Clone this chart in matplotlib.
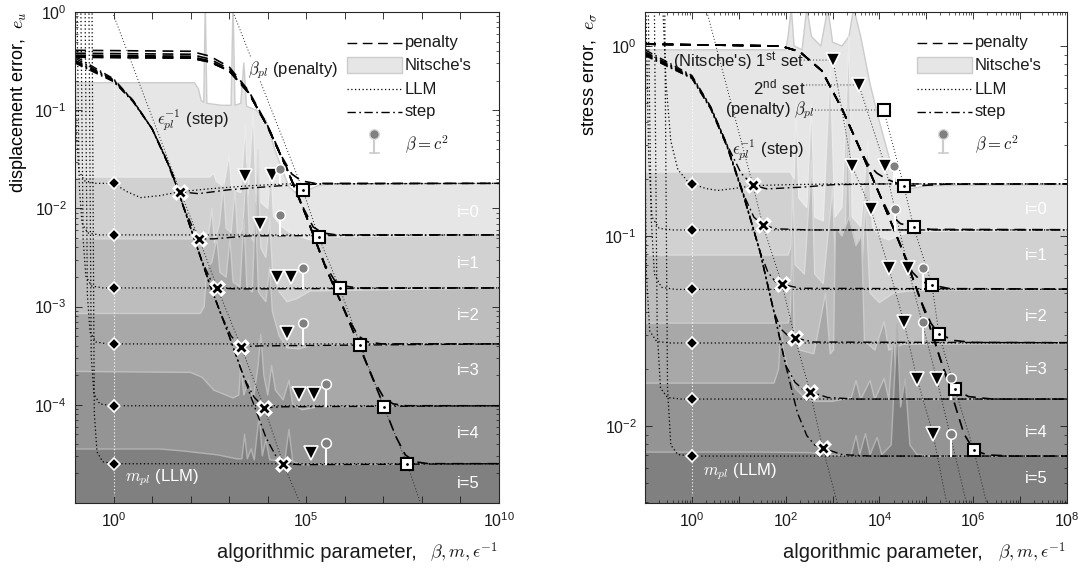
import numpy as np
import matplotlib.pyplot as plt
from matplotlib.ticker import LogLocator, NullLocator
from matplotlib.patches import Rectangle

plt.rcParams['font.family'] = ['Liberation Sans', 'DejaVu Sans']
plt.rcParams['mathtext.fontset'] = 'cm'

# all curve data below are (log10 parameter, log10 error) pairs
fill_gray = [0.90, 0.82, 0.74, 0.66, 0.58, 0.50]
edge_gray = [0.80, 0.92, 0.86, 0.80, 0.75, 0.70]

# ---------------- displacement panel ----------------
u_levels = [-1.745, -2.27, -2.81, -3.38, -4.01, -4.60]

u_nitsche = [
    [(-1, -0.72), (2.1, -0.72), (2.2, -0.78), (2.27, -0.90), (2.34, -0.92), (2.38, 0.1), (2.42, -0.93),
     (2.8, -0.95), (3.05, -0.95), (3.1, 0.1), (3.15, -0.95), (3.3, -0.93), (3.38, -0.52), (3.45, -0.96),
     (3.7, -1.0), (3.95, -1.1), (4.2, -1.42), (4.4, -1.63), (4.55, -1.78), (4.75, -1.85), (5.0, -1.82),
     (5.3, -1.77), (5.6, -1.75), (10, -1.745)],
    [(-1, -1.68), (2.5, -1.68), (2.6, -1.64), (2.66, -1.72), (2.85, -1.78), (3.0, -1.45), (3.06, -1.80),
     (3.3, -1.84), (3.42, -1.15), (3.49, -1.86), (3.62, -1.0), (3.7, -1.86), (3.85, -1.95), (4.0, -2.0),
     (4.08, -1.55), (4.15, -2.08), (4.35, -2.18), (4.55, -2.24), (4.8, -2.28), (5.1, -2.32), (5.4, -2.29),
     (10, -2.27)],
    [(-1, -2.31), (2.3, -2.31), (2.45, -2.30), (2.55, -2.0), (2.62, -2.35), (2.75, -2.15), (2.85, -1.75),
     (2.92, -2.2), (3.05, -2.25), (3.15, -1.8), (3.22, -2.3), (3.35, -2.2), (3.45, -1.55), (3.52, -2.25),
     (3.65, -2.35), (3.75, -1.4), (3.82, -2.4), (3.95, -2.5), (4.05, -2.1), (4.12, -2.6), (4.3, -2.85),
     (4.5, -2.95), (4.75, -2.92), (5.1, -2.84), (10, -2.81)],
    [(-1, -3.07), (2.25, -3.07), (2.35, -3.0), (2.42, -2.6), (2.55, -2.55), (2.68, -2.3), (2.76, -2.65),
     (2.92, -2.7), (3.02, -2.3), (3.1, -2.75), (3.28, -2.8), (3.38, -2.1), (3.46, -2.8), (3.6, -2.85),
     (3.68, -1.95), (3.76, -2.85), (3.95, -2.95), (4.05, -2.6), (4.12, -3.05), (4.3, -3.3), (4.5, -3.42),
     (4.8, -3.43), (5.2, -3.39), (10, -3.38)],
    [(-1, -3.66), (2.0, -3.67), (2.3, -3.72), (2.6, -3.85), (3.1, -3.93), (3.25, -3.9), (3.3, -3.58),
     (3.38, -3.9), (3.5, -3.75), (3.62, -3.95), (3.75, -3.6), (3.82, -3.28), (3.9, -3.7), (4.0, -3.9),
     (4.1, -3.6), (4.2, -3.85), (4.4, -3.95), (4.55, -3.75), (4.65, -4.0), (4.9, -4.05), (5.3, -4.02),
     (10, -4.01)],
    [(-1, -4.45), (1.2, -4.45), (1.8, -4.47), (2.7, -4.51), (3.2, -4.55), (3.33, -4.55), (3.4, -4.3),
     (3.47, -4.55), (3.57, -4.45), (3.65, -4.56), (3.78, -4.1), (3.86, -4.52), (3.95, -4.35), (4.05, -4.56),
     (4.3, -4.57), (4.45, -4.55), (4.55, -4.25), (4.65, -4.58), (4.9, -4.61), (10, -4.60)],
]

u_penalty = [
    [(-1, -0.39), (2.0, -0.40), (2.5, -0.45), (3.0, -0.56), (3.5, -0.80), (4.0, -1.16), (4.375, -1.48),
     (4.625, -1.65), (4.875, -1.72), (5.225, -1.745), (10, -1.745)],
    [(-1, -0.42), (2.0, -0.43), (2.5, -0.48), (3.0, -0.58), (3.5, -0.81), (4.0, -1.17), (4.5, -1.60),
     (4.93, -2.00), (5.18, -2.19), (5.43, -2.25), (5.78, -2.27), (10, -2.27)],
    [(-1, -0.44), (2.0, -0.45), (2.5, -0.50), (3.0, -0.60), (3.5, -0.82), (4.0, -1.17), (4.5, -1.60),
     (5.0, -2.08), (5.48, -2.57), (5.73, -2.73), (5.98, -2.79), (6.33, -2.81), (10, -2.81)],
    [(-1, -0.45), (2.0, -0.46), (2.5, -0.50), (3.0, -0.60), (3.5, -0.82), (4.0, -1.17), (4.5, -1.60),
     (5.0, -2.08), (5.5, -2.60), (6.1, -3.13), (6.35, -3.30), (6.6, -3.36), (6.95, -3.38), (10, -3.38)],
    [(-1, -0.46), (2.0, -0.47), (2.5, -0.51), (3.0, -0.60), (3.5, -0.82), (4.0, -1.17), (4.5, -1.60),
     (5.0, -2.08), (5.5, -2.60), (6.0, -3.05), (6.75, -3.75), (7.0, -3.92), (7.25, -3.99), (7.6, -4.01),
     (10, -4.01)],
    [(-1, -0.46), (2.0, -0.47), (2.5, -0.51), (3.0, -0.60), (3.5, -0.82), (4.0, -1.17), (4.5, -1.60),
     (5.0, -2.08), (5.5, -2.60), (6.0, -3.05), (6.5, -3.52), (7.0, -4.0), (7.32, -4.32), (7.57, -4.51),
     (7.82, -4.58), (8.17, -4.60), (10, -4.60)],
]

u_step = [
    [(-1, -0.45), (0, -0.68), (0.5, -0.90), (1.0, -1.19), (1.33, -1.46), (1.55, -1.70), (1.73, -1.83),
     (2.2, -1.85), (3.0, -1.81), (4.3, -1.77), (5.5, -1.75), (10, -1.745)],
    [(-1, -0.47), (0, -0.69), (0.5, -0.90), (1.0, -1.19), (1.5, -1.62), (1.81, -1.98), (2.06, -2.20),
     (2.22, -2.31), (2.6, -2.31), (3.5, -2.28), (10, -2.27)],
    [(-1, -0.49), (0, -0.69), (0.5, -0.90), (1.0, -1.19), (1.5, -1.62), (2.0, -2.20), (2.28, -2.52),
     (2.53, -2.74), (2.69, -2.81), (3.2, -2.82), (10, -2.81)],
    [(-1, -0.50), (0, -0.70), (0.5, -0.90), (1.0, -1.19), (1.5, -1.62), (2.0, -2.20), (2.5, -2.78),
     (2.8, -3.09), (3.05, -3.30), (3.31, -3.41), (3.8, -3.40), (10, -3.38)],
    [(-1, -0.51), (0, -0.70), (0.5, -0.91), (1.0, -1.19), (1.5, -1.62), (2.0, -2.20), (2.5, -2.78),
     (3.0, -3.30), (3.39, -3.73), (3.64, -3.92), (3.91, -4.03), (4.4, -4.02), (10, -4.01)],
    [(-1, -0.52), (0, -0.71), (0.5, -0.91), (1.0, -1.19), (1.5, -1.62), (2.0, -2.20), (2.5, -2.78),
     (3.0, -3.30), (3.5, -3.85), (3.96, -4.34), (4.21, -4.52), (4.40, -4.60), (4.9, -4.61), (10, -4.60)],
]

u_llm = [
    [(-1.03, 0.1), (-0.97, -1.2), (-0.9, -1.62), (-0.75, -1.72), (-0.45, -1.745), (0.0, -1.745),
     (0.35, -1.83), (0.7, -1.89), (1.2, -1.87), (1.73, -1.83), (2.5, -1.80), (3.5, -1.77), (4.5, -1.75),
     (10, -1.745)],
    [(-0.95, 0.1), (-0.89, -1.77), (-0.82, -2.15), (-0.67, -2.25), (-0.37, -2.27), (10, -2.27)],
    [(-0.85, 0.1), (-0.79, -2.31), (-0.72, -2.69), (-0.57, -2.79), (-0.27, -2.81), (10, -2.81)],
    [(-0.74, 0.1), (-0.68, -2.88), (-0.61, -3.26), (-0.46, -3.36), (-0.16, -3.38), (10, -3.38)],
    [(-0.64, 0.1), (-0.58, -3.5), (-0.51, -3.89), (-0.36, -3.99), (-0.06, -4.01), (10, -4.01)],
    [(-0.56, 0.1), (-0.50, -4.09), (-0.43, -4.48), (-0.28, -4.58), (0.02, -4.60), (10, -4.60)],
]

u_cross = [(1.73, -1.83), (2.22, -2.31), (2.69, -2.81), (3.31, -3.41), (3.91, -4.03), (4.40, -4.60)]
u_square = [(4.91, -1.81), (5.32, -2.29), (5.865, -2.81), (6.40, -3.39), (7.01, -4.02), (7.62, -4.605)]
u_tri1 = [(3.42, -1.67), (3.81, -2.16), (4.24, -2.70), (4.50, -3.27), (4.80, -3.89), (5.12, -4.49)]
u_tri2 = [(4.11, -1.66), (4.61, -2.70), (5.21, -3.89)]
u_lolli = [(4.31, -1.595), (4.31, -2.064), (4.91, -2.605), (4.91, -3.17), (5.51, -3.79), (5.51, -4.385)]
u_cross_ends = [(-0.03, 0.0), (4.95, -5.1)]
u_square_ends = [(3.1, 0.0), (8.05, -5.1)]

# ---------------- stress panel ----------------
s_levels = [-0.725, -0.968, -1.281, -1.563, -1.858, -2.158]

s_nitsche = [
    [(-1, -0.02), (2.0, -0.02), (2.05, 0.05), (2.12, 0.2), (2.18, 0.0), (2.35, -0.02), (2.45, 0.2),
     (2.55, 0.05), (2.75, 0.0), (2.9, 0.2), (3.0, 0.02), (3.2, 0.0), (3.35, 0.05), (3.45, 0.2), (3.6, 0.05),
     (3.8, -0.2), (4.0, -0.4), (4.2, -0.58), (4.35, -0.72), (4.5, -0.76), (4.7, -0.75), (5.0, -0.735),
     (10, -0.725)],
    [(-1, -0.663), (2.1, -0.663), (2.18, -0.70), (2.22, -0.3), (2.28, -0.8), (2.45, -0.85), (2.55, -0.3),
     (2.62, -0.9), (2.8, -0.92), (2.95, -0.1), (3.05, -0.9), (3.2, -0.85), (3.35, 0.05), (3.42, -0.9),
     (3.6, -0.95), (3.75, -0.5), (3.85, -0.95), (4.0, -1.0), (4.2, -1.02), (4.5, -0.99), (4.8, -0.975),
     (10, -0.968)],
    [(-1, -1.10), (2.05, -1.10), (2.12, -1.05), (2.15, -0.7), (2.2, -1.15), (2.4, -1.2), (2.55, -0.6),
     (2.62, -1.2), (2.8, -1.25), (3.0, -0.75), (3.08, -1.25), (3.25, -1.3), (3.32, -0.3), (3.4, -1.3),
     (3.6, -1.3), (3.7, -0.8), (3.8, -1.3), (4.0, -1.35), (4.3, -1.3), (4.6, -1.29), (5.0, -1.284),
     (10, -1.281)],
    [(-1, -1.458), (2.05, -1.458), (2.1, -1.40), (2.14, -1.0), (2.18, -1.5), (2.3, -1.6), (2.6, -1.62),
     (2.85, -1.3), (2.95, -1.62), (3.02, -1.6), (3.06, -0.95), (3.2, -1.0), (3.35, -0.9), (3.5, -1.05),
     (3.62, -1.0), (3.68, -1.55), (3.9, -1.6), (4.1, -1.45), (4.2, -1.6), (4.5, -1.57), (10, -1.563)],
    [(-1, -1.774), (1.75, -1.774), (1.85, -1.70), (1.9, -1.46), (1.95, -1.6), (2.05, -1.7), (2.2, -1.8),
     (2.4, -1.85), (2.6, -1.87), (3.0, -1.87), (3.4, -1.85), (3.5, -1.76), (3.6, -1.86), (3.8, -1.76),
     (3.9, -1.86), (4.1, -1.75), (4.2, -1.86), (4.3, -1.5), (4.38, -1.86), (4.6, -1.86), (10, -1.858)],
    [(-1, -2.137), (1.5, -2.137), (2.5, -2.14), (3.2, -2.155), (3.4, -2.15), (3.5, -2.05), (3.58, -2.15),
     (3.7, -2.04), (3.8, -2.15), (3.95, -2.06), (4.05, -2.15), (4.25, -2.1), (4.38, -1.46), (4.45, -1.9),
     (4.55, -1.75), (4.65, -2.1), (4.8, -2.15), (5.1, -2.16), (10, -2.158)],
]

s_penalty = [
    [(-1, 0.01), (1.9, 0.0), (2.3, -0.03), (2.77, -0.13), (3.2, -0.33), (3.6, -0.55), (3.75, -0.62),
     (3.95, -0.67), (4.15, -0.70), (4.35, -0.72), (4.52, -0.735), (4.85, -0.735), (5.4, -0.727), (10, -0.725)],
    [(-1, 0.01), (1.9, 0.0), (2.3, -0.03), (2.77, -0.13), (3.2, -0.33), (3.6, -0.55), (4.0, -0.78),
     (4.2, -0.88), (4.45, -0.935), (4.73, -0.953), (5.1, -0.965), (10, -0.968)],
    [(-1, 0.01), (1.9, 0.0), (2.3, -0.03), (2.77, -0.13), (3.2, -0.33), (3.6, -0.55), (4.0, -0.78),
     (4.5, -1.08), (4.7, -1.19), (4.9, -1.24), (5.12, -1.258), (5.5, -1.277), (10, -1.281)],
    [(-1, 0.01), (1.9, 0.0), (2.3, -0.03), (2.77, -0.13), (3.2, -0.33), (3.6, -0.55), (4.0, -0.78),
     (4.5, -1.08), (4.9, -1.35), (5.1, -1.46), (5.27, -1.516), (5.6, -1.55), (6.0, -1.56), (10, -1.563)],
    [(-1, 0.01), (1.9, 0.0), (2.3, -0.03), (2.77, -0.13), (3.2, -0.33), (3.6, -0.55), (4.0, -0.78),
     (4.5, -1.08), (5.0, -1.42), (5.3, -1.65), (5.45, -1.75), (5.61, -1.805), (5.9, -1.845), (6.4, -1.858),
     (10, -1.858)],
    [(-1, 0.01), (1.9, 0.0), (2.3, -0.03), (2.77, -0.13), (3.2, -0.33), (3.6, -0.55), (4.0, -0.78),
     (4.5, -1.08), (5.0, -1.42), (5.5, -1.80), (5.8, -2.04), (6.01, -2.126), (6.3, -2.152), (6.8, -2.158),
     (10, -2.158)],
]

s_step = [
    [(-1, -0.02), (0, -0.155), (0.4, -0.32), (0.75, -0.52), (1.05, -0.67), (1.30, -0.732), (1.6, -0.752),
     (2.4, -0.742), (3.0, -0.73), (4.0, -0.726), (10, -0.725)],
    [(-1, -0.03), (0, -0.16), (0.4, -0.32), (0.75, -0.52), (1.1, -0.78), (1.32, -0.90), (1.51, -0.942),
     (1.8, -0.962), (2.5, -0.968), (10, -0.968)],
    [(-1, -0.035), (0, -0.165), (0.4, -0.325), (0.75, -0.525), (1.1, -0.78), (1.45, -1.08), (1.62, -1.19),
     (1.78, -1.24), (1.92, -1.253), (2.3, -1.275), (10, -1.281)],
    [(-1, -0.04), (0, -0.165), (0.4, -0.325), (0.75, -0.525), (1.1, -0.785), (1.45, -1.08), (1.75, -1.40),
     (1.9, -1.49), (2.05, -1.525), (2.2, -1.537), (2.6, -1.558), (10, -1.563)],
    [(-1, -0.045), (0, -0.17), (0.4, -0.33), (0.75, -0.53), (1.1, -0.785), (1.45, -1.08), (1.75, -1.40),
     (2.0, -1.68), (2.2, -1.77), (2.36, -1.805), (2.52, -1.82), (2.9, -1.85), (3.5, -1.858), (10, -1.858)],
    [(-1, -0.05), (0, -0.17), (0.4, -0.33), (0.75, -0.53), (1.1, -0.79), (1.45, -1.08), (1.75, -1.40),
     (2.0, -1.68), (2.25, -1.93), (2.45, -2.05), (2.62, -2.10), (2.79, -2.116), (3.2, -2.15), (3.8, -2.158),
     (10, -2.158)],
]

s_llm = [
    [(-0.62, 0.2), (-0.55, -0.2), (-0.45, -0.5), (-0.3, -0.65), (-0.1, -0.71), (0.0, -0.725), (0.3, -0.75),
     (0.55, -0.76), (0.9, -0.75), (1.3, -0.735), (2.0, -0.73), (3.0, -0.726), (10, -0.725)],
    [(-0.98, 0.2), (-0.92, -0.6), (-0.85, -0.9), (-0.7, -0.96), (-0.4, -0.968), (10, -0.968)],
    [(-0.93, 0.2), (-0.87, -0.9), (-0.80, -1.2), (-0.65, -1.27), (-0.35, -1.281), (10, -1.281)],
    [(-1.03, 0.2), (-0.97, -1.2), (-0.9, -1.5), (-0.75, -1.555), (-0.45, -1.563), (10, -1.563)],
    [(-0.80, 0.2), (-0.74, -1.5), (-0.67, -1.8), (-0.52, -1.85), (-0.22, -1.858), (10, -1.858)],
    [(-0.58, 0.2), (-0.52, -1.8), (-0.45, -2.1), (-0.3, -2.15), (0.0, -2.158), (10, -2.158)],
]

s_cross = [(1.30, -0.732), (1.51, -0.942), (1.92, -1.253), (2.20, -1.537), (2.52, -1.82), (2.79, -2.116)]
s_square = [(4.52, -0.737), (4.73, -0.953), (5.12, -1.258), (5.27, -1.516), (5.61, -1.805), (6.01, -2.126)]
s_tri1 = [(3.41, -0.63), (3.82, -0.86), (4.20, -1.17), (4.52, -1.45), (4.80, -1.75), (5.14, -2.04)]
s_tri2 = [(4.12, -0.63), (4.61, -1.17), (5.22, -1.75)]
s_lolli = [(4.31, -0.632), (4.33, -0.858), (4.93, -1.168), (4.93, -1.453), (5.52, -1.747), (5.52, -2.042)]
s_cross_ends = [(0.32, 0.18), (3.15, -2.45)]
s_tri1_lead = [(2.32, -0.074), (3.01, -0.074)]
s_tri2_lead = [(2.37, -0.205), (3.56, -0.205)]
s_square_lead = [(2.56, -0.337), (4.09, -0.337)]
s_tri1_end = (5.47, -2.45)
s_tri2_end = (5.90, -2.45)
s_square_end = (6.33, -2.45)

diamond_beta = 1.0


def lin(pts):
    a = np.array(pts, dtype=float)
    return 10.0 ** a[:, 0], 10.0 ** a[:, 1]


def draw_panel(ax, levels, nitsche, pen, step, llm, trends, crosses, squares, tri1, tri2, lolli):
    for i in range(6):
        x, y = lin(nitsche[i])
        ax.fill_between(x, y, 1e-12, color=str(fill_gray[i]), lw=0, zorder=1 + 0.02 * i)
        ax.plot(x, y, color=str(edge_gray[i]), lw=1.0, zorder=1.01 + 0.02 * i)
    ax.axvline(diamond_beta, color='white', ls=(0, (1, 2)), lw=0.8, zorder=1.5)
    for t in trends:
        ax.plot(*lin(t), color='0.15', ls=(0, (1, 2.2)), lw=0.7, zorder=2)
    for c in llm:
        ax.plot(*lin(c), color='k', ls=(0, (1, 2)), lw=0.9, zorder=2.2)
    for c in pen:
        ax.plot(*lin(c), color='k', ls=(0, (6.5, 4)), lw=1.2, zorder=2.4)
    for c in step:
        ax.plot(*lin(c), color='k', ls=(0, (6, 2.5, 1.2, 2.5)), lw=1.0, zorder=2.6)

    lev = 10.0 ** np.array(levels)
    ax.plot(np.full(6, diamond_beta), lev, 'D', ms=6.3, mfc='k', mec='w', mew=1.2, zorder=6)
    x, y = lin(crosses)
    ax.plot(x, y, 'X', ms=11, mfc='w', mec='w', mew=0.5, zorder=6)
    ax.plot(x, y, 'x', ms=6, mec='k', mew=2.0, zorder=6.1)
    x, y = lin(squares)
    ax.plot(x, y, 's', ms=8, mfc='w', mec='k', mew=1.5, zorder=6)
    ax.plot(x, y, '.', ms=2, color='k', zorder=6.1)
    for tri in (tri1, tri2):
        x, y = lin(tri)
        ax.plot(x, y, 'v', ms=9.5, mfc='k', mec='w', mew=1.2, zorder=6)
    x, y = lin(lolli)
    for k in range(6):
        ax.plot([x[k], x[k]], [y[k], lev[k]], color='w', lw=1.5, zorder=5)
    ax.plot(x, y, 'o', ms=7, mfc='0.5', mec='w', mew=1.1, zorder=6)


def draw_legend(ax, x0, x1, xt, cx):
    rows = [0.937, 0.892, 0.843, 0.797]
    tr = ax.transAxes
    kw = dict(transform=tr, fontsize=12, va='center', ha='left', color='0.1')
    ax.plot([x0, x1], [rows[0]] * 2, color='k', ls=(0, (7, 4)), lw=1.0, transform=tr, zorder=7)
    ax.text(xt, rows[0], 'penalty', **kw)
    ax.add_patch(Rectangle((x0, rows[1] - 0.016), x1 - x0, 0.032, transform=tr,
                           fc='0.9', ec='0.8', lw=1.0, zorder=7))
    ax.text(xt, rows[1], "Nitsche's", **kw)
    ax.plot([x0, x1], [rows[2]] * 2, color='k', ls=(0, (1, 2)), lw=0.9, transform=tr, zorder=7)
    ax.text(xt, rows[2], 'LLM', **kw)
    ax.plot([x0, x1], [rows[3]] * 2, color='k', ls=(0, (6, 2.5, 1.2, 2.5)), lw=1.0, transform=tr, zorder=7)
    ax.text(xt, rows[3], 'step', **kw)
    ax.plot([cx, cx], [0.751, 0.713], color='0.8', lw=1.5, transform=tr, zorder=7)
    ax.plot([cx - 0.01, cx + 0.011], [0.713, 0.713], color='0.8', lw=1.2, transform=tr, zorder=7)
    ax.plot([cx], [0.751], 'o', ms=7, mfc='0.5', mec='0.85', mew=1.0, transform=tr, zorder=7.1)
    ax.text(xt, 0.729, r'$\beta = c^2$', **kw)


def tick_setup(ax, kmin, kmax, label_every, ymin_k, ymax_k):
    ax.tick_params(which='both', direction='in', top=True, right=True, labelsize=11.5,
                   colors='0.1', pad=6)
    ax.tick_params(which='major', length=5, width=0.6)
    ax.tick_params(which='minor', length=2.5, width=0.5)
    ks = np.arange(kmin, kmax + 1)
    ax.set_xticks(10.0 ** ks)
    ax.set_xticklabels([r'$\mathdefault{10^{%d}}$' % k if (k % label_every == 0 and k >= 0) else ''
                        for k in ks])
    ky = np.arange(ymin_k, ymax_k + 1)
    ax.set_yticks(10.0 ** ky)
    ax.set_yticklabels([r'$\mathdefault{10^{%d}}$' % k for k in ky])
    ax.yaxis.set_minor_locator(LogLocator(base=10, subs=np.arange(2, 10), numticks=100))
    for s in ax.spines.values():
        s.set_color('0.15')
        s.set_linewidth(0.8)
        s.set_zorder(10)


fig = plt.figure(figsize=(10.89, 5.74), dpi=100)
axu = fig.add_axes([0.0689, 0.1237, 0.3893, 0.8554])
axs = fig.add_axes([0.5923, 0.1237, 0.3875, 0.8554])
for ax in (axu, axs):
    ax.set_xscale('log')
    ax.set_yscale('log')

# ---- left ----
u_trends = [[u_cross_ends[0]] + u_cross + [u_cross_ends[1]],
            [u_square_ends[0]] + u_square + [u_square_ends[1]]]
draw_panel(axu, u_levels, u_nitsche, u_penalty, u_step, u_llm, u_trends,
           u_cross, u_square, u_tri1, u_tri2, u_lolli)
axu.set_xlim(1e-1, 1e10)
axu.set_ylim(1e-5, 1.0)
tick_setup(axu, -1, 10, 5, -4, 0)
axu.xaxis.set_minor_locator(NullLocator())
draw_legend(axu, 0.6415, 0.7712, 0.7783, 0.7052)

ann = dict(fontsize=12, va='center', ha='left', color='0.1', zorder=8)
axu.text(10 ** 3.49, 10 ** -0.59, r'$\beta_{pl}$ (penalty)',
         bbox=dict(fc='white', ec='none', pad=0.5), **ann)
axu.text(10 ** 1.13, 10 ** -1.10, r'$\epsilon_{pl}^{-1}$ (step)', **ann)
axu.text(10 ** 0.30, 10 ** -4.745, r'$m_{pl}$ (LLM)', **dict(ann, color='white'))
u_label_y = [-2.04, -2.56, -3.09, -3.65, -4.29, -4.80]
for i, ly in enumerate(u_label_y):
    axu.text(10 ** 9.21, 10 ** ly, 'i=%d' % i, color='white', fontsize=12, ha='center', va='center', zorder=8)
axu.set_ylabel(r'displacement error,  $e_u$', fontsize=13, loc='top', labelpad=4)

# ---- right ----
s_trends = [[s_cross_ends[0]] + s_cross + [s_cross_ends[1]],
            s_tri1_lead + s_tri1 + [s_tri1_end],
            s_tri2_lead + s_tri2 + [s_tri2_end],
            s_square_lead + s_square + [s_square_end]]
draw_panel(axs, s_levels, s_nitsche, s_penalty, s_step, s_llm, s_trends,
           s_cross, s_square, s_tri1, s_tri2, s_lolli)
tx, ty = lin([s_tri1_lead[1], s_tri2_lead[1]])
axs.plot(tx, ty, 'v', ms=9.5, mfc='k', mec='w', mew=1.2, zorder=6)
qx, qy = lin([s_square_lead[1]])
axs.plot(qx, qy, 's', ms=8, mfc='w', mec='k', mew=1.5, zorder=6)
axs.set_xlim(1e-1, 1e8)
axs.set_ylim(10 ** -2.405, 10 ** 0.179)
tick_setup(axs, -1, 8, 2, -2, 0)
axs.xaxis.set_minor_locator(LogLocator(base=10, subs=np.arange(2, 10), numticks=100))
draw_legend(axs, 0.6445, 0.775, 0.782, 0.706)

axs.text(10 ** -0.405, 10 ** -0.084, r"(Nitsche's) 1$^{\mathdefault{st}}$ set", **ann)
axs.text(10 ** 1.30, 10 ** -0.216, r"2$^{\mathdefault{nd}}$ set", **ann)
axs.text(10 ** 0.70, 10 ** -0.337, r"(penalty) $\beta_{pl}$", **ann)
axs.text(10 ** 0.86, 10 ** -0.547, r"$\epsilon_{pl}^{-1}$ (step)", **ann)
axs.text(10 ** 0.235, 10 ** -2.242, r'$m_{pl}$ (LLM)', **dict(ann, color='white'))
s_label_y = [-0.858, -1.10, -1.426, -1.705, -2.032, -2.274]
for i, ly in enumerate(s_label_y):
    axs.text(10 ** 7.34, 10 ** ly, 'i=%d' % i, color='white', fontsize=12, ha='center', va='center', zorder=8)
axs.set_ylabel(r'stress error,  $e_\sigma$', fontsize=13, loc='top', labelpad=4)

# x labels: plain words a little larger than the math symbols, right-aligned to each axes
for xw, xm in ((0.383, 0.4573), (0.9027, 0.979)):
    fig.text(xw, 0.0366, 'algorithmic parameter,', fontsize=14.5, ha='right', va='center', color='0.1')
    fig.text(xm, 0.0366, r'$\beta, m, \epsilon^{-1}$', fontsize=13, ha='right', va='center', color='0.1')

fig.savefig('out.png', dpi=100)
